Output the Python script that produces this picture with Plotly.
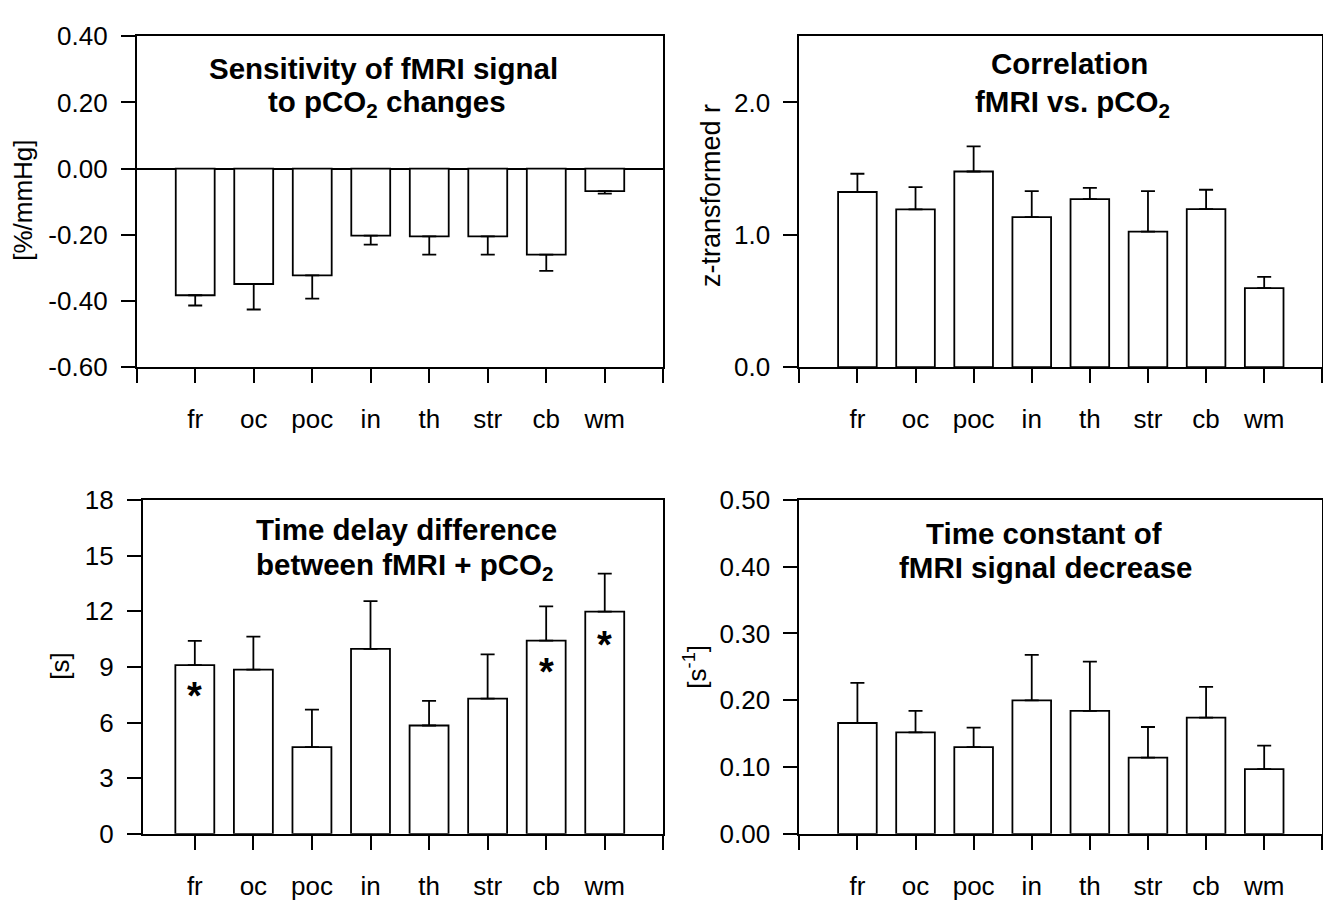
import plotly.graph_objects as go

# ---------------- data ----------------
categories = ["fr", "oc", "poc", "in", "th", "str", "cb", "wm"]

sensitivity = [-0.383, -0.349, -0.323, -0.203, -0.205, -0.205, -0.260, -0.068]
sensitivity_err = [0.031, 0.077, 0.070, 0.027, 0.055, 0.055, 0.049, 0.008]
sensitivity_ticks = [-0.6, -0.4, -0.2, 0.0, 0.2, 0.4]
sensitivity_ticktext = ["-0.60", "-0.40", "-0.20", "0.00", "0.20", "0.40"]

correlation = [1.323, 1.192, 1.478, 1.133, 1.269, 1.024, 1.194, 0.597]
correlation_err = [0.138, 0.167, 0.189, 0.197, 0.085, 0.306, 0.146, 0.085]
correlation_ticks = [0, 1, 2]
correlation_ticktext = ["0.0", "1.0", "2.0"]

delay = [9.10, 8.85, 4.68, 9.97, 5.84, 7.29, 10.42, 11.98]
delay_err = [1.30, 1.78, 2.02, 2.57, 1.33, 2.38, 1.84, 2.05]
delay_ticks = [0, 3, 6, 9, 12, 15, 18]
delay_ticktext = ["0", "3", "6", "9", "12", "15", "18"]

time_const = [0.166, 0.152, 0.130, 0.200, 0.184, 0.114, 0.174, 0.097]
time_const_err = [0.060, 0.032, 0.029, 0.068, 0.074, 0.046, 0.046, 0.035]
time_const_ticks = [0, 0.1, 0.2, 0.3, 0.4, 0.5]
time_const_ticktext = ["0.00", "0.10", "0.20", "0.30", "0.40", "0.50"]

star_categories = ["fr", "cb", "wm"]
star_values = [7.91, 9.22, 10.64]

# ---------------- figure ----------------
PAGE_OFF = 8            # page body margin in the browser
W, H = 1331 - PAGE_OFF, 902 - PAGE_OFF
FONT = "Liberation Sans, Arial, Helvetica, sans-serif"
xpos = list(range(len(categories)))
zeros = [0] * len(categories)

fig = go.Figure()

def add_bars(vals, errs, xa, ya, negative=False):
    up, down = (zeros, errs) if negative else (errs, zeros)
    fig.add_trace(go.Bar(
        x=xpos, y=vals, width=0.665,
        error_y=dict(type="data", symmetric=False, array=up, arrayminus=down,
                     color="black", thickness=1.8, width=7),
        marker=dict(color="white", line=dict(color="black", width=1.8)),
        xaxis=xa, yaxis=ya, showlegend=False,
    ))

add_bars(sensitivity, sensitivity_err, "x", "y", negative=True)
add_bars(correlation, correlation_err, "x2", "y2")
add_bars(delay, delay_err, "x3", "y3")
add_bars(time_const, time_const_err, "x4", "y4")

for cat, val in zip(star_categories, star_values):
    fig.add_annotation(
        x=categories.index(cat), y=val, xref="x3", yref="y3", text="<b>*</b>",
        showarrow=False, xanchor="center", yanchor="middle", yshift=-9,
        font=dict(family=FONT, size=38, color="black"),
    )

def px_x(p):
    return (p - PAGE_OFF) / W

def px_y(p):
    return 1 - (p - PAGE_OFF) / H

edge_ticks = [-1, len(categories)]

def xaxis(dom, rng, anchor):
    return dict(domain=dom, range=rng, anchor=anchor, tickmode="array",
                tickvals=xpos, ticktext=categories,
                ticks="outside", ticklen=14, tickwidth=1.8, tickcolor="black",
                minor=dict(tickmode="array", tickvals=edge_ticks, ticks="outside",
                           ticklen=14, tickwidth=1.8, tickcolor="black",
                           showgrid=False),
                showline=True, linecolor="black", linewidth=1.8,
                mirror=True, showgrid=False, zeroline=False,
                tickfont=dict(family=FONT, size=26, color="black"),
                ticklabelstandoff=14)

def yaxis(dom, rng, anchor, tickvals, ticktext, zeroline=False):
    return dict(domain=dom, range=rng, anchor=anchor, tickmode="array",
                tickvals=tickvals, ticktext=ticktext,
                ticks="outside", ticklen=14, tickwidth=1.8, tickcolor="black",
                showline=True, linecolor="black", linewidth=1.8,
                mirror=True, showgrid=False, zeroline=zeroline,
                zerolinecolor="black", zerolinewidth=1.8,
                tickfont=dict(family=FONT, size=26, color="black"),
                ticklabelstandoff=8)

top_dom = [px_y(364.0), px_y(21.7)]
bot_dom = [px_y(847.0), px_y(501.5)]

fig.update_layout(
    width=W, height=H,
    margin=dict(l=0, r=0, t=0, b=0),
    paper_bgcolor="white", plot_bgcolor="white",
    font=dict(family=FONT, color="black"),
    xaxis=xaxis([px_x(136.7), px_x(663.3)], [-1, 8], "y"),
    yaxis=yaxis(top_dom, [-0.6, 0.4], "x", sensitivity_ticks, sensitivity_ticktext,
                zeroline=True),
    xaxis2=xaxis([px_x(799.3), px_x(1322.3)], [-1, 8], "y2"),
    yaxis2=yaxis(top_dom, [0, 2.5], "x2", correlation_ticks, correlation_ticktext),
    xaxis3=xaxis([px_x(142.7), px_x(663.3)], [-0.89, 8], "y3"),
    yaxis3=yaxis(bot_dom, [0, 18], "x3", delay_ticks, delay_ticktext),
    xaxis4=xaxis([px_x(799.3), px_x(1322.3)], [-1, 8], "y4"),
    yaxis4=yaxis(bot_dom, [0, 0.5], "x4", time_const_ticks, time_const_ticktext),
)

def note(text, x, y, size=29.5, bold=True, angle=0):
    fig.add_annotation(
        text=("<b>%s</b>" % text) if bold else text,
        x=px_x(x), y=px_y(y), xref="paper", yref="paper",
        xanchor="center", yanchor="middle", showarrow=False, textangle=angle,
        font=dict(family=FONT, size=size, color="black"),
    )

# panel titles
note("Sensitivity of fMRI signal", 383, 55)
note("to pCO<sub>2</sub> changes", 387, 91)
note("Correlation", 1069, 50)
note("fMRI vs. pCO<sub>2</sub>", 1072, 91)
note("Time delay difference", 406, 532)
note("between fMRI + pCO<sub>2</sub>", 405, 570)
note("Time constant of", 1044, 536)
note("fMRI signal decrease", 1045, 571)

# y axis titles
note("[%/mmHg]", 23, 192, size=26, bold=False, angle=-90)
note("z-transformed r", 711, 187, size=27, bold=False, angle=-90)
note("[s]", 60, 674, size=26, bold=False, angle=-90)
note("[s<sup>-1</sup>]", 696, 674, size=26, bold=False, angle=-90)

fig.write_html("out.html")
